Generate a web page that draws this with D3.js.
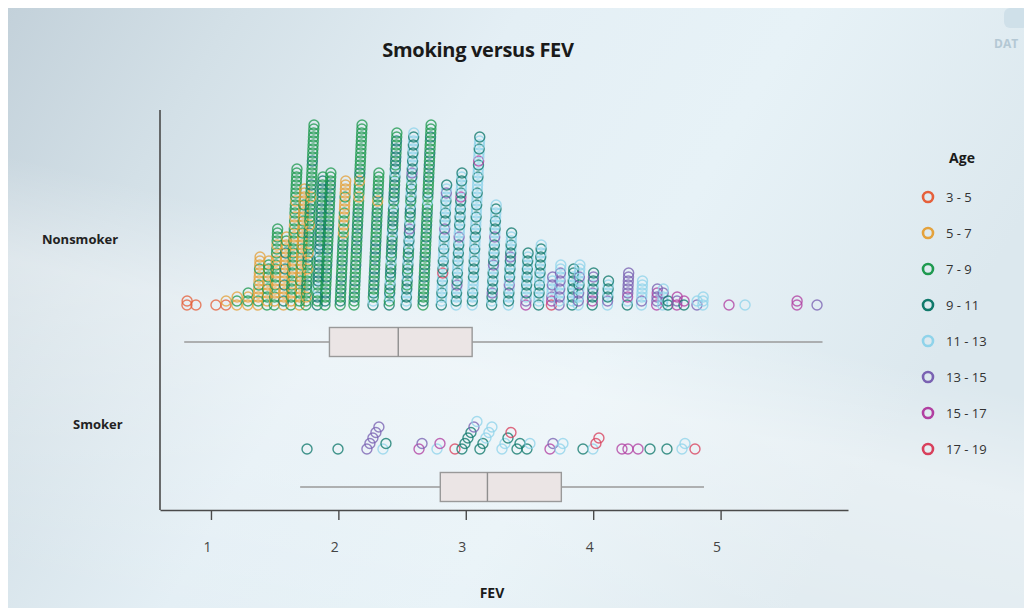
<!DOCTYPE html>
<html><head><meta charset="utf-8">
<script src="https://cdn.jsdelivr.net/npm/d3@7"></script>
<style>html,body{margin:0;padding:0;background:#fff;} svg{display:block;}</style>
</head><body>
<svg id="chart" width="1024" height="608"></svg>
<script>
// ---------- DATA ----------
const ageGroups = ["3 - 5","5 - 7","7 - 9","9 - 11","11 - 13","13 - 15","15 - 17","17 - 19"];
const ageColors = ["#e5603b","#e4a23c","#1f9a50","#10796b","#8fd3ea","#7a62b2","#b13fa1","#d8405c"];
const xTicks = [1,2,3,4,5];
const groupNames = ["Nonsmoker","Smoker"];

// Nonsmoker dot columns: FEV position and ages (group index) stacked bottom -> top
const nonsmokerFev = [0.812,0.882,1.039,1.118,1.204,1.290,1.377,1.447,1.510,1.581,1.651,1.714,1.777,1.856,1.918,2.036,2.154,2.295,2.429,2.562,2.696,2.829,2.947,3.080,3.221,3.347,3.480,3.582,3.677,3.739,3.841,3.889,3.998,4.116,4.273,4.383,4.501,4.548,4.587,4.658,4.713,4.815,4.862,5.066,5.192,5.600,5.757];
const nonsmokerAges = [
"00","0","0","01","121","1212",
"12111 21112 111",
"21212 11212 21",
"21211 21212 21122 12222",
"13111 31113 11131 121",
"21212 22121 21222 12122 12122 21222 22222",
"12121 12111 21112 11121 12111 21111",
"22122 32221 22312 22232 12223 22122 32222 23222 22222 2",
"32324 23332 32343 33232 33323 23233 232",
"23232 22322 32223 22232 32223 22322 3222",
"23223 22322 23222 32212 12121 11211 11",
"22322 23222 32223 22322 32232 22122 21232 22222 22222 2",
"34232 32323 22323 23222 32232 21232 2222",
"32432 34233 24323 32343 23323 42332 32343 23323 2322",
"34343 23432 34323 43435 34233 42343 24353 43434 3434",
"23232 22322 32232 22322 32232 24232 22322 32232 22322 2",
"34434 43473 43443 44345 43434 43454 3",
"43434 53434 43434 34544 34343 43634 4343",
"43434 44343 43443 44343 44344 34434 44344 36443 443",
"34353 43434 53434 34543 43443 4",
"43434 54343 43534 3443",
"65434 34343 4343",
"34434 34434 34343 4",
"76544 545",
"54545 45454 4",
"34343 43433",
"45454 34544 4",
"36353 4353",
"45343 43",
"34655 5555",
"45444 44",
"65565","44454","33","656","36","54","444","6","4","66","5"
];

// Smoker dot columns
const smokerFev = [1.754,1.997,2.224,2.350,2.633,2.774,2.915,2.970,3.111,3.284,3.402,3.480,3.661,3.739,3.920,3.998,4.226,4.273,4.352,4.446,4.579,4.697,4.799];
const smokerAges = ["3","3","55555","43","65","46","7","333354","33444","4437","33","34","65","44","3","477","6","6","6","3","3","44","7"];

// Box plot stats: [min, Q1, median, Q3, max]
const nonsmokerBox = [0.79, 1.93, 2.47, 3.05, 5.80];
const smokerBox = [1.70, 2.80, 3.17, 3.75, 4.87];

// ---------- LAYOUT ----------
const W = 1024, H = 608;
const svg = d3.select("#chart");
const font = "'Open Sans', 'Noto Sans', sans-serif";

// background
const defs = svg.append("defs");
const lg = defs.append("linearGradient").attr("id","bg").attr("x1","0").attr("y1","0").attr("x2","1").attr("y2","0.35");
[[0,"#c3d1da"],[0.2,"#d3e0e7"],[0.45,"#e4eff5"],[0.7,"#e7f2f7"],[1,"#dce8ee"]].forEach(s=>lg.append("stop").attr("offset",s[0]).attr("stop-color",s[1]));
const lg2 = defs.append("linearGradient").attr("id","band").attr("x1","0.15").attr("y1","1").attr("x2","0.55").attr("y2","0");
[[0,"#ffffff",0],[0.45,"#ffffff",0.35],[0.6,"#ffffff",0],[1,"#ffffff",0]].forEach(s=>lg2.append("stop").attr("offset",s[0]).attr("stop-color",s[1]).attr("stop-opacity",s[2]));
svg.append("rect").attr("x",0).attr("y",0).attr("width",W).attr("height",H).attr("fill","#ffffff");
svg.append("rect").attr("x",8).attr("y",8).attr("width",W-8).attr("height",H-8).attr("fill","url(#bg)");
svg.append("rect").attr("x",8).attr("y",8).attr("width",W-8).attr("height",H-8).attr("fill","url(#band)");

// watermark
svg.append("rect").attr("x",1004).attr("y",8).attr("width",24).attr("height",20).attr("rx",6).attr("fill","#cfe0e9");
svg.append("text").attr("x",994).attr("y",48).attr("font-family",font).attr("font-weight",700)
  .attr("font-size",12).attr("fill","#b4c8d4").text("DAT");

const x = d3.scaleLinear().domain([0.6, 6.0]).range([160, 848]);
const rowBase = {Nonsmoker: 305, Smoker: 449};
const rowStep = {Nonsmoker: 4, Smoker: 5.5};
const rowSlant = {Nonsmoker: 0.18, Smoker: 3};
const boxMid = {Nonsmoker: 342, Smoker: 487};
const boxH = 29;
const labelPos = {Nonsmoker: [42, 244], Smoker: [73, 429]};

// title
svg.append("text").attr("x",478).attr("y",57).attr("text-anchor","middle")
  .attr("font-family",font).attr("font-weight",700).attr("font-size",20).attr("fill","#1a1a1a")
  .attr("letter-spacing",-0.3).text("Smoking versus FEV");

// axes
const axisG = svg.append("g").attr("transform","translate(0,510)")
  .call(d3.axisBottom(x).tickValues(xTicks).tickSizeInner(10).tickSizeOuter(0).tickPadding(22).tickFormat(d3.format("d")));
axisG.select(".domain").attr("stroke","#4a4a4a").attr("stroke-width",1.6);
axisG.selectAll(".tick line").attr("stroke","#4a4a4a").attr("stroke-width",1.4);
axisG.selectAll(".tick text").attr("font-family",font).attr("font-size",14).attr("fill","#444").attr("dx",-4);

svg.append("line").attr("x1",160).attr("x2",160).attr("y1",110).attr("y2",510)
  .attr("stroke","#4a4a4a").attr("stroke-width",1.6);

svg.append("text").attr("x",492).attr("y",598).attr("text-anchor","middle")
  .attr("font-family",font).attr("font-weight",700).attr("font-size",14).attr("fill","#1a1a1a").text("FEV");

groupNames.forEach(g => {
  svg.append("text").attr("x",labelPos[g][0]).attr("y",labelPos[g][1])
    .attr("font-family",font).attr("font-weight",700).attr("font-size",13).attr("fill","#222").text(g);
});

// box plots
function drawBox(g, st) {
  const m = boxMid[g];
  const gg = svg.append("g");
  gg.append("line").attr("x1",x(st[0])).attr("x2",x(st[4])).attr("y1",m).attr("y2",m)
    .attr("stroke","#9a9a9a").attr("stroke-width",1.6);
  gg.append("rect").attr("x",x(st[1])).attr("y",m-boxH/2).attr("width",x(st[3])-x(st[1])).attr("height",boxH)
    .attr("fill","#ebe5e5").attr("stroke","#999").attr("stroke-width",1.4);
  gg.append("line").attr("x1",x(st[2])).attr("x2",x(st[2])).attr("y1",m-boxH/2).attr("y2",m+boxH/2)
    .attr("stroke","#8f8f8f").attr("stroke-width",1.4);
}
drawBox("Nonsmoker", nonsmokerBox);
drawBox("Smoker", smokerBox);

// dots
function buildDots(g, fevs, ages) {
  const pts = [];
  fevs.forEach((f, i) => {
    const seq = ages[i].replace(/\s/g, "").split("").map(Number);
    const n = seq.length;
    seq.forEach((a, k) => {
      const off = g === "Nonsmoker" ? (k - (n - 1) / 2) * rowSlant[g] : k * rowSlant[g];
      pts.push({cx: x(f) + off, cy: rowBase[g] - k * rowStep[g], age: a});
    });
  });
  return pts;
}
const dotsG = svg.append("g");
[["Nonsmoker", nonsmokerFev, nonsmokerAges], ["Smoker", smokerFev, smokerAges]].forEach(([g, f, a]) => {
  dotsG.selectAll(null).data(buildDots(g, f, a)).enter().append("circle")
    .attr("cx", d => d.cx).attr("cy", d => d.cy).attr("r", 5)
    .attr("fill", "none").attr("stroke", d => ageColors[d.age])
    .attr("stroke-width", 1.4).attr("stroke-opacity", 0.78);
});

// legend
const leg = svg.append("g");
leg.append("text").attr("x",962).attr("y",163).attr("text-anchor","middle")
  .attr("font-family",font).attr("font-weight",700).attr("font-size",14).attr("fill","#1a1a1a").text("Age");
ageGroups.forEach((lab, i) => {
  const yy = 197 + i * 36;
  leg.append("circle").attr("cx",928).attr("cy",yy).attr("r",5)
    .attr("fill","none").attr("stroke",ageColors[i]).attr("stroke-width",2.6);
  leg.append("text").attr("x",946).attr("y",yy+4.5)
    .attr("font-family",font).attr("font-size",13).attr("fill","#333").text(lab);
});
</script>
</body></html>
